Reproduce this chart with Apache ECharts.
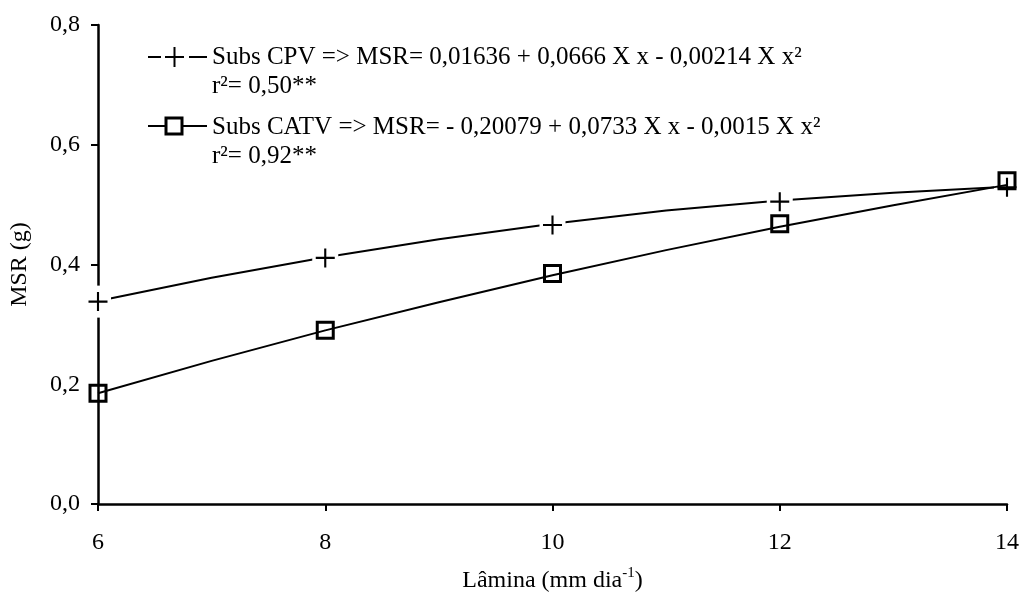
<!DOCTYPE html>
<html>
<head>
<meta charset="utf-8">
<script src="https://cdn.jsdelivr.net/npm/echarts@6/dist/echarts.min.js"></script>
<style>
  html, body { margin: 0; padding: 0; background: #fff; }
  #chart { width: 1021px; height: 595px; }
</style>
</head>
<body>
<div id="chart"></div>
<script>
// observed points (Lâmina, mm/dia)
const lamina = [6, 8, 10, 12, 14];
const cpvObs = [0.338, 0.411, 0.466, 0.505, 0.529];
const catvObs = [0.185, 0.290, 0.385, 0.468, 0.540];

// fitted curves
const curveX = [6, 7, 8, 9, 10, 11, 12, 13, 14];
const cpvCurve = [0.339, 0.378, 0.412, 0.442, 0.468, 0.490, 0.507, 0.520, 0.530];
const catvCurve = [0.185, 0.239, 0.290, 0.337, 0.382, 0.424, 0.463, 0.499, 0.533];

const legendLines = [
  "Subs CPV => MSR= 0,01636 + 0,0666 X x - 0,00214 X x²",
  "r²= 0,50**",
  "Subs CATV => MSR= - 0,20079 + 0,0733 X x - 0,0015 X x²",
  "r²= 0,92**",
];

const FONT = "'Liberation Serif', 'Times New Roman', serif";
const PLUS = "path://M8,0h2v8h8v2h-8v8h-2v-8h-8v-2h8z";

const pairs = (xs, ys) => xs.map((x, i) => [x, ys[i]]);

const chart = echarts.init(document.getElementById("chart"));

const legendText = (txt, y) => ({
  type: "text",
  left: 212,
  top: y,
  silent: true,
  style: { text: txt, font: "25px " + FONT, fill: "#000" },
});
const seg = (x1, y1, x2, y2) => ({
  type: "line",
  silent: true,
  shape: { x1: x1, y1: y1, x2: x2, y2: y2 },
  style: { stroke: "#000", lineWidth: 2 },
});

chart.setOption({
  animation: false,
  backgroundColor: "#fff",
  grid: { left: 98, right: 14, top: 25, bottom: 91, containLabel: false, outerBoundsMode: "none" },
  xAxis: {
    type: "value",
    min: 6,
    max: 14,
    interval: 2,
    name: "Lâmina (mm dia{sup|-1})",
    nameLocation: "middle",
    nameGap: 62,
    nameTextStyle: {
      fontFamily: FONT,
      fontSize: 24,
      color: "#000",
      rich: { sup: { fontFamily: FONT, fontSize: 15, color: "#000", padding: [0, 0, 14, 0] } },
    },
    axisLine: { lineStyle: { color: "#000", width: 2.5 } },
    axisTick: { inside: false, length: 7, lineStyle: { color: "#000", width: 2 } },
    axisLabel: { margin: 27, fontFamily: FONT, fontSize: 24, color: "#000" },
    splitLine: { show: false },
  },
  yAxis: {
    type: "value",
    min: 0,
    max: 0.8,
    interval: 0.2,
    name: "MSR (g)",
    nameLocation: "middle",
    nameGap: 66,
    nameTextStyle: { fontFamily: FONT, fontSize: 24, color: "#000" },
    axisLine: { show: true, lineStyle: { color: "#000", width: 2.5 } },
    axisTick: { show: true, inside: false, length: 7, lineStyle: { color: "#000", width: 2 } },
    axisLabel: {
      margin: 18,
      fontFamily: FONT,
      fontSize: 24,
      color: "#000",
      formatter: (v) => v.toFixed(1).replace(".", ","),
    },
    splitLine: { show: false },
  },
  series: [
    {
      type: "line",
      z: 2,
      data: pairs(curveX, cpvCurve),
      showSymbol: false,
      silent: true,
      lineStyle: { color: "#000", width: 2 },
    },
    {
      // white gap round the plus marks
      type: "scatter",
      z: 3,
      data: pairs(lamina, cpvObs),
      symbol: "rect",
      symbolSize: [26, 32],
      silent: true,
      itemStyle: { color: "#fff", opacity: 1 },
    },
    {
      type: "scatter",
      z: 4,
      data: pairs(lamina, cpvObs),
      symbol: PLUS,
      symbolSize: 19,
      silent: true,
      itemStyle: { color: "#000", opacity: 1 },
    },
    {
      type: "line",
      z: 5,
      data: pairs(curveX, catvCurve),
      showSymbol: false,
      silent: true,
      lineStyle: { color: "#000", width: 2 },
    },
    {
      type: "scatter",
      z: 6,
      data: pairs(lamina, catvObs),
      symbol: "rect",
      symbolSize: 16,
      silent: true,
      itemStyle: { color: "rgba(255,255,255,0)", borderColor: "#000", borderWidth: 3, opacity: 1 },
    },
  ],
  graphic: [
    // legend: -+- for CPV
    seg(148, 57, 161, 57),
    seg(189, 57, 207, 57),
    seg(165, 57, 184, 57),
    seg(174.5, 47, 174.5, 67),
    // legend: -□- for CATV
    seg(148, 126, 207, 126),
    {
      type: "rect",
      silent: true,
      shape: { x: 166, y: 118, width: 16, height: 16 },
      style: { fill: "#fff", stroke: "#000", lineWidth: 3 },
    },
    legendText(legendLines[0], 45),
    legendText(legendLines[1], 74),
    legendText(legendLines[2], 115),
    legendText(legendLines[3], 144),
  ],
});
</script>
</body>
</html>
